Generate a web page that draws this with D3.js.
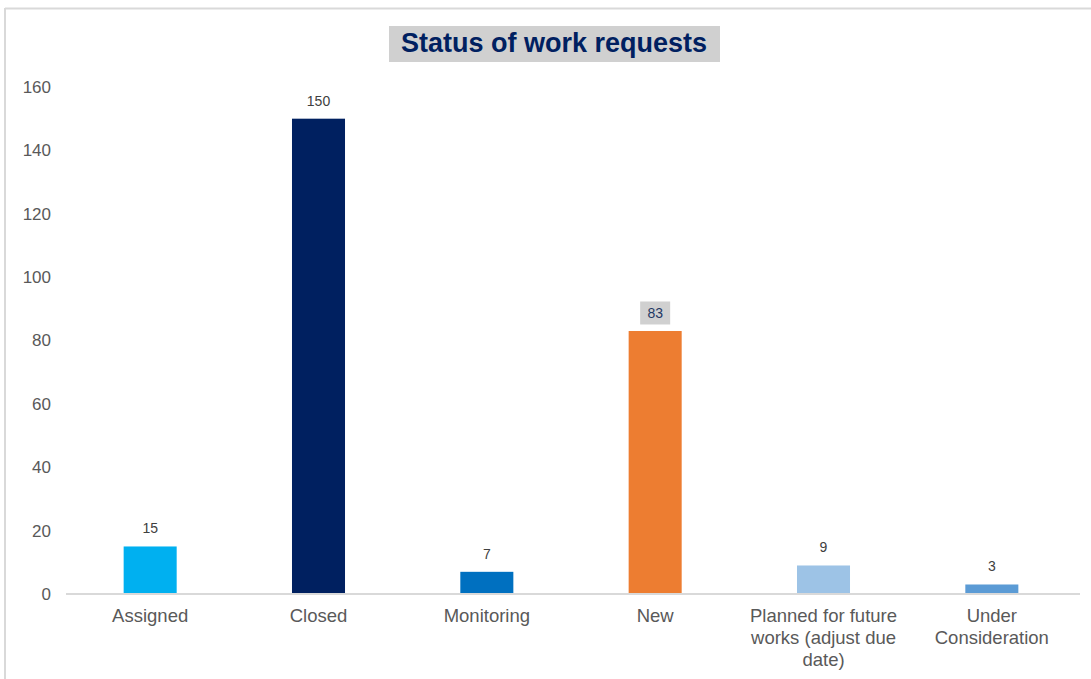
<!DOCTYPE html>
<html>
<head>
<meta charset="utf-8">
<script src="https://cdn.jsdelivr.net/npm/d3@7"></script>
<style>
  html, body { margin: 0; padding: 0; background: #fff; }
  svg { display: block; font-family: "Liberation Sans", Arial, sans-serif; }
</style>
</head>
<body>
<svg id="chart" width="1091" height="679"></svg>
<script>
// Work request counts by status
const categories = ["Assigned", "Closed", "Monitoring", "New", "Planned for future works (adjust due date)", "Under Consideration"];
const counts = [15, 150, 7, 83, 9, 3];
const barColors = ["#00B0F0", "#002060", "#0070C0", "#ED7D31", "#9DC3E6", "#5B9BD5"];
const yTicks = [0, 20, 40, 60, 80, 100, 120, 140, 160];
const highlighted = ["New"];

const svg = d3.select("#chart");
const W = 1091, H = 679;
const plotBottom = 594;

// Chart frame (top and left edges)
svg.append("line").attr("x1", 5).attr("x2", W).attr("y1", 8.5).attr("y2", 8.5)
  .attr("stroke", "#d9d9d9").attr("stroke-width", 2);
svg.append("line").attr("x1", 5).attr("x2", 5).attr("y1", 8).attr("y2", H)
  .attr("stroke", "#d9d9d9").attr("stroke-width", 2);

const x = d3.scaleBand().domain(categories).range([66, 1076]).paddingInner(0.685).paddingOuter(0.3425);
const y = d3.scaleLinear().domain([0, 160]).range([plotBottom, 87]);

// Y axis labels (no line, no ticks)
const yAxis = d3.axisLeft(y).tickValues(yTicks).tickSize(0).tickPadding(0);
const yg = svg.append("g").attr("transform", "translate(51,0)").call(yAxis);
yg.select(".domain").remove();
yg.selectAll("text").attr("fill", "#595959").style("font-size", "17px")
  .style("font-family", "Liberation Sans, Arial, sans-serif");

// Bars
svg.append("g").selectAll("rect").data(categories).join("rect")
  .attr("x", d => x(d))
  .attr("y", (d, i) => y(counts[i]))
  .attr("width", x.bandwidth())
  .attr("height", (d, i) => y(0) - y(counts[i]))
  .attr("fill", (d, i) => barColors[i]);

// X axis baseline
const xAxis = d3.axisBottom(x).tickSize(0).tickPadding(0);
const xg = svg.append("g").attr("transform", `translate(0,${plotBottom})`).call(xAxis);
xg.select(".domain").attr("stroke", "#d9d9d9").attr("stroke-width", 2)
  .attr("d", `M66,0H1080`);
xg.selectAll("text").remove();

// Wrapped category labels
const wrapLines = {
  "Planned for future works (adjust due date)": ["Planned for future", "works (adjust due", "date)"],
  "Under Consideration": ["Under", "Consideration"]
};
xg.selectAll("g.tick").each(function(d) {
  const lines = wrapLines[d] || [d];
  const t = d3.select(this).append("text")
    .attr("text-anchor", "middle").attr("fill", "#595959")
    .style("font-size", "18.5px").attr("y", 28);
  lines.forEach((ln, i) => t.append("tspan").attr("x", 0).attr("dy", i === 0 ? 0 : 22).text(ln));
});

// Value labels
const labels = svg.append("g");
categories.forEach((c, i) => {
  const cx = x(c) + x.bandwidth() / 2;
  const ty = y(counts[i]) - 18;
  if (highlighted.includes(c)) {
    labels.append("rect").attr("x", cx - 15).attr("y", ty - 11.5).attr("width", 30).attr("height", 23)
      .attr("fill", "#d0d0d0");
  }
  labels.append("text").attr("x", cx).attr("y", ty + 5)
    .attr("text-anchor", "middle")
    .attr("fill", highlighted.includes(c) ? "#1f3864" : "#404040")
    .style("font-size", "14px").text(counts[i]);
});

// Title
const titleG = svg.append("g");
titleG.append("rect").attr("x", 389).attr("y", 26).attr("width", 331).attr("height", 36).attr("fill", "#d0d0d0");
titleG.append("text").attr("x", 554).attr("y", 52).attr("text-anchor", "middle")
  .attr("fill", "#002060").style("font-size", "27px").style("font-weight", "bold")
  .text("Status of work requests");
</script>
</body>
</html>
